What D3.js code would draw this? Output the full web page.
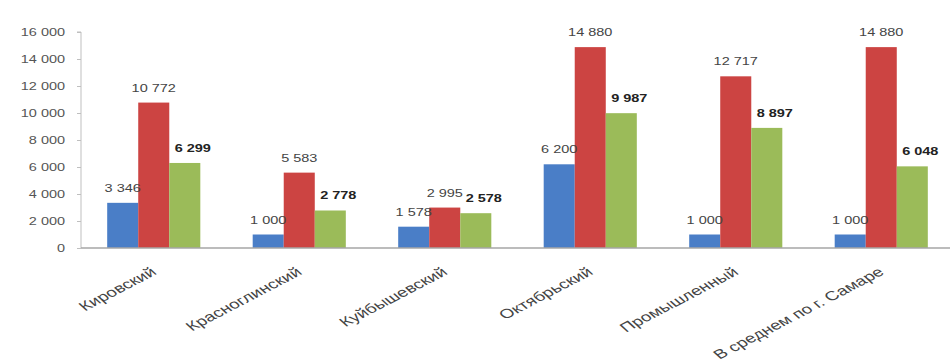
<!DOCTYPE html>
<html><head><meta charset="utf-8">
<script src="https://cdn.jsdelivr.net/npm/d3@7"></script>
<style>body{margin:0;background:#fff} svg{display:block} text{font-family:"Liberation Sans",Arial,sans-serif}</style>
</head><body><svg id="c" width="950" height="363"></svg>
<script>
const categories = ["Кировский","Красноглинский","Куйбышевский","Октябрьский","Промышленный","В среднем по г. Самаре"];
const seriesKeys = ["a","b","c"];
const seriesA = [3346, 1000, 1578, 6200, 1000, 1000];
const seriesB = [10772, 5583, 2995, 14880, 12717, 14880];
const seriesC = [6299, 2778, 2578, 9987, 8897, 6048];
const yTicks = [0, 2000, 4000, 6000, 8000, 10000, 12000, 14000, 16000];

const colors = {a:"#4A7EC7", b:"#CC4442", c:"#9BBB59"};
const labelDx = {a:0, b:0, c:8};
const SX = 1.45;
const values = {a:seriesA, b:seriesB, c:seriesC};

const svg = d3.select("#c");
const locale = d3.formatLocale({decimal:",", thousands:" ", grouping:[3], currency:["",""]});
const fmt = locale.format(",d");

const x = d3.scaleBand().domain(categories).range([81, 954]).paddingInner(0.36).paddingOuter(0.18);
const xs = d3.scaleBand().domain(seriesKeys).range([0, x.bandwidth()]).padding(0);
const y = d3.scaleLinear().domain([0, 16000]).range([248, 32]);

// bars
seriesKeys.forEach(k => {
  svg.append("g").selectAll("rect").data(categories).join("rect")
    .attr("x", (d) => x(d) + xs(k))
    .attr("y", (d,i) => y(values[k][i]))
    .attr("width", xs.bandwidth())
    .attr("height", (d,i) => y(0) - y(values[k][i]))
    .attr("fill", colors[k]);
});

// y axis
const ya = svg.append("g").attr("transform", "translate(81,0)")
  .call(d3.axisLeft(y).tickValues(yTicks).tickSize(4).tickFormat(fmt));
ya.select(".domain").attr("stroke", "#bfbfbf").attr("d", `M-4,${y(16000)}H0V${y(0)}`);
ya.selectAll(".tick line").attr("stroke", "#bfbfbf");
ya.selectAll(".tick text").attr("x", -11).attr("transform", `scale(${SX},1)`)
  .attr("fill", "#555").style("font-size", "10px");

// x baseline
svg.append("line").attr("x1", 81).attr("x2", 950).attr("y1", y(0)).attr("y2", y(0))
  .attr("stroke", "#a6a6a6").attr("stroke-width", 1.5);

// value labels
seriesKeys.forEach(k => {
  svg.append("g").selectAll("text").data(categories).join("text")
    .attr("transform", (d,i) => `translate(${x(d) + xs(k) + xs.bandwidth()/2 + labelDx[k]},${y(values[k][i]) - 11}) scale(${SX},1)`)
    .attr("text-anchor", "middle")
    .style("font-size", "10px")
    .style("font-weight", k === "c" ? "bold" : "normal")
    .attr("fill", k === "c" ? "#222" : "#444")
    .text((d,i) => fmt(values[k][i]));
});

// category labels
svg.append("g").selectAll("text").data(categories).join("text")
  .attr("transform", d => `translate(${x(d) + x.bandwidth()/2},270) scale(${SX},1) rotate(-37)`)
  .attr("text-anchor", "end")
  .attr("dy", "0.35em")
  .style("font-size", "13px")
  .attr("fill", "#444")
  .text(d => d);
</script>
</body></html>
